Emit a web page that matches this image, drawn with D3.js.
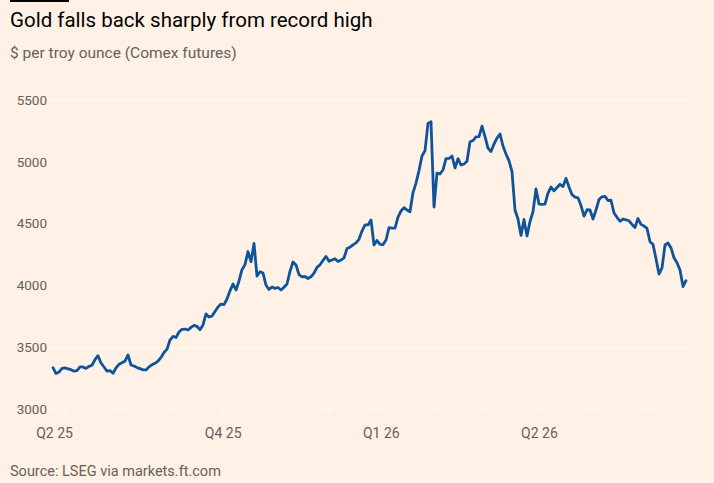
<!DOCTYPE html>
<html>
<head>
<meta charset="utf-8">
<script src="https://cdn.jsdelivr.net/npm/d3@7"></script>
<style>
  html, body { margin: 0; padding: 0; background: #fff1e5; }
  svg { display: block; font-family: Roboto, "Noto Sans", sans-serif; }
</style>
</head>
<body>
<section></section>
<script>

// data: gold price, $ per troy ounce, equally spaced samples
const prices = [
    3334, 3287, 3299, 3328, 3332, 3325, 3318, 3306, 3311, 3341,
    3340, 3328, 3345, 3354, 3400, 3431, 3372, 3340, 3307, 3311,
    3289, 3332, 3362, 3374, 3388, 3437, 3356, 3348, 3335, 3327,
    3317, 3316, 3341, 3358, 3370, 3388, 3417, 3457, 3484, 3558,
    3588, 3578, 3623, 3645, 3647, 3639, 3660, 3677, 3668, 3642,
    3680, 3769, 3744, 3752, 3789, 3825, 3849, 3845, 3890, 3956,
    4011, 3963, 4036, 4127, 4168, 4274, 4192, 4340, 4076, 4111,
    4100, 4001, 3967, 3987, 3976, 3983, 3963, 3985, 4011, 4114,
    4189, 4165, 4087, 4069, 4072, 4056, 4070, 4100, 4146, 4167,
    4201, 4235, 4195, 4206, 4216, 4194, 4205, 4222, 4298, 4309,
    4328, 4344, 4373, 4440, 4489, 4489, 4529, 4327, 4363, 4332,
    4330, 4367, 4468, 4464, 4464, 4553, 4602, 4629, 4610, 4596,
    4751, 4828, 4929, 5048, 5090, 5311, 5324, 4634, 4909, 4901,
    4934, 5025, 5027, 5047, 4950, 5025, 4974, 4982, 5004, 5162,
    5172, 5201, 5203, 5289, 5203, 5111, 5083, 5144, 5192, 5225,
    5128, 5063, 5008, 4921, 4610, 4537, 4404, 4533, 4400, 4517,
    4596, 4780, 4658, 4656, 4658, 4747, 4796, 4765, 4792, 4818,
    4800, 4866, 4796, 4734, 4715, 4709, 4646, 4561, 4612, 4610,
    4537, 4610, 4695, 4717, 4720, 4687, 4689, 4586, 4551, 4519,
    4537, 4531, 4523, 4493, 4468, 4541, 4494, 4480, 4461, 4353,
    4332, 4215, 4092, 4141, 4327, 4343, 4303, 4224, 4184, 4125,
    3991, 4038
];

// time axis in months from the first tick; the series spans this range
const firstMonth = -0.22;
const lastMonth = 11.79;
const monthTicks = d3.range(0, 12);
const quarterAt = [-0.2, 3, 6, 9];
const quarterLabels = ['Q2 25', 'Q4 25', 'Q1 26', 'Q2 26'];

const yTicks = [3000, 3500, 4000, 4500, 5000, 5500];

const title = 'Gold falls back sharply from record high';
const subtitle = '$ per troy ounce (Comex futures)';
const source = 'Source: LSEG via markets.ft.com';


const w = 714;
const h = 483;

const svg = d3.select('section').append('svg').attr('width', w).attr('height', h);

svg.append('rect').attr('width', w).attr('height', h).attr('fill', '#fff1e5');

// heading

svg.append('rect').attr('x', 10).attr('y', 0).attr('width', 59).attr('height', 2).attr('fill', '#000');

svg.append('text').attr('x', 10).attr('y', 27)
    .style('font-size', '20.5px').attr('fill', '#000').text(title);

svg.append('text').attr('x', 10).attr('y', 58)
    .style('font-size', '15.5px').attr('fill', '#66605c').text(subtitle);


// scales

const xScale = d3.scaleLinear().domain([firstMonth, lastMonth]).range([53, 686]);

const yScale = d3.scaleLinear().domain([3000, 5500]).range([409, 100]);


// y-axis with gridlines

const yAxis = d3.axisLeft(yScale).tickValues(yTicks).tickSize(-640).tickPadding(3).tickFormat(d3.format('d'));

const yg = svg.append('g').attr('transform', 'translate(50,0)').call(yAxis);

yg.select('.domain').remove();
yg.selectAll('line').attr('stroke', '#fffaf6').attr('stroke-width', 1);
yg.selectAll('text').attr('fill', '#66605c').style('font-size', '13.5px').style('font-family', 'Roboto, sans-serif');


// x-axis: faint month ticks and quarter labels

const xTickAxis = d3.axisBottom(xScale).tickValues(monthTicks).tickSize(7).tickFormat('');

const xt = svg.append('g').attr('transform', 'translate(0,409)').call(xTickAxis);

xt.select('.domain').remove();
xt.selectAll('line').attr('stroke', '#fffaf6');

const xLabelAxis = d3.axisBottom(xScale).tickValues(quarterAt).tickSize(0).tickPadding(19)
    .tickFormat((d, i) => quarterLabels[i]);

const xl = svg.append('g').attr('transform', 'translate(0,409)').call(xLabelAxis);

xl.select('.domain').remove();
xl.selectAll('text').attr('fill', '#66605c').style('font-size', '14px').style('font-family', 'Roboto, sans-serif');


// line

const step = (lastMonth - firstMonth) / (prices.length - 1);

const line = d3.line()
    .x((d, i) => xScale(firstMonth + i * step))
    .y(d => yScale(d));

svg.append('path').datum(prices)
    .attr('d', line)
    .attr('fill', 'none')
    .attr('stroke', '#0f5499')
    .attr('stroke-width', 2.8)
    .attr('stroke-linejoin', 'round')
    .attr('stroke-linecap', 'round');


// source

svg.append('text').attr('x', 10).attr('y', 476)
    .style('font-size', '14.5px').attr('fill', '#66605c').text(source);

</script>
</body>
</html>
